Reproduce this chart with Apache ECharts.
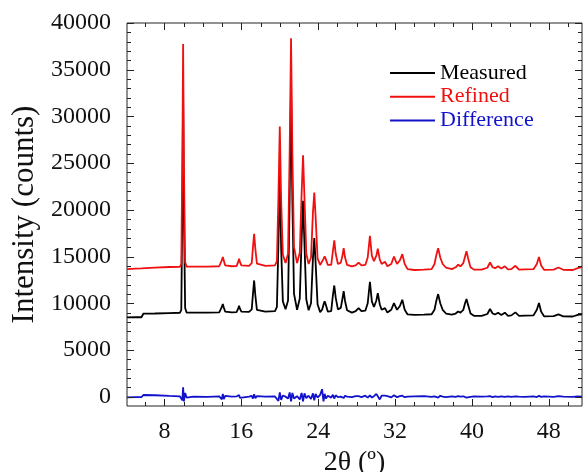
<!DOCTYPE html>
<html>
<head>
<meta charset="utf-8">
<script src="https://cdn.jsdelivr.net/npm/echarts@6/dist/echarts.min.js"></script>
<style>
  html, body { margin: 0; padding: 0; background: #fff; }
  #chart { width: 584px; height: 472px; }
</style>
</head>
<body>
<div id="chart"></div>
<script>
// Powder diffraction pattern: measured profile, refined fit and their difference.
const twoTheta = [
  4.1, 5.0, 5.6, 5.8, 7.0, 8.5, 9.6,
  9.75, 9.86, 9.94, 10.02, 10.15, 10.3,
  11.0, 12.5, 13.7,
  13.85, 13.97, 14.07, 14.17, 14.32,
  15.0, 15.5,
  15.6, 15.68, 15.76, 15.85, 16.0,
  16.8,
  17.08, 17.2, 17.33, 17.46, 17.62,
  18.5, 19.5,
  19.7, 19.86, 20.0, 20.14, 20.32, 20.6,
  20.86, 21.03, 21.17, 21.31, 21.48, 21.8,
  22.08, 22.27, 22.42, 22.57, 22.76, 23.0,
  23.25, 23.45, 23.59, 23.73, 23.93, 24.2,
  24.4, 24.55, 24.67, 24.8, 25.0,
  25.35, 25.52, 25.67, 25.82, 26.05,
  26.35, 26.52, 26.65, 26.78, 27.0,
  27.5, 27.9, 28.2, 28.5,
  28.9, 29.15, 29.38, 29.58, 29.8,
  30.05, 30.2, 30.4, 30.6,
  30.8, 30.95, 31.2,
  31.6, 31.88, 32.2,
  32.5, 32.75, 33.0, 33.3,
  34.0, 35.0, 35.8,
  36.1, 36.3, 36.48, 36.7, 36.95, 37.3, 37.9,
  38.3, 38.56, 38.8, 39.1, 39.28, 39.43, 39.6, 39.85, 40.2, 41.0,
  41.6, 41.88, 42.15, 42.4, 42.72, 43.05, 43.42, 43.75, 44.1, 44.52, 44.9, 45.5, 46.4,
  46.75, 46.97, 47.2, 47.5, 48.5, 49.0, 49.5, 50.5, 51.0, 51.45
];

const measured = [
  8480, 8500, 8500, 8880, 8900, 8950, 8980,
  9300, 20500, 32500, 20000, 9500, 9000,
  8990, 9000, 9030,
  9150, 9600, 9910, 9550, 9100,
  9030, 9050,
  9150, 9450, 9730, 9420, 9100,
  9080,
  9350, 10900, 12440, 10800, 9300,
  9100, 9150,
  9600, 16500, 23900, 16000, 10200, 9350,
  10300, 21500, 33300, 21000, 11000, 9300,
  10500, 16800, 20960, 16300, 10400, 9250,
  10000, 14800, 16970, 14300, 9900, 9050,
  9300, 9850, 10200, 9800, 9100,
  9150, 10800, 11900, 10600, 9350,
  9500, 10500, 11300, 10300, 9250,
  9000, 9150, 9480, 9150,
  9200, 10000, 12300, 10200, 9600,
  10300, 11090, 9900, 9300,
  9200, 9480, 9000,
  9300, 10020, 9300,
  9700, 10370, 9300, 8800,
  8750, 8780, 8820,
  9300, 10300, 10980, 10000, 9300, 8900, 8780,
  8900, 9120, 9000, 9300, 10000, 10450, 9800, 8900, 8650, 8650,
  8850, 9380, 8900, 8800, 8980, 8750, 8990, 8650, 8700, 9020, 8650, 8680, 8700,
  9300, 10020, 9100, 8600, 8620, 8800, 8600, 8580, 8750, 8800
];

const refined = [
  13650, 13700, 13730, 13760, 13820, 13880, 13900,
  14200, 25500, 37750, 25000, 14400, 13920,
  13910, 13930, 13960,
  14080, 14620, 14940, 14580, 14050,
  13960, 13980,
  14100, 14450, 14760, 14420, 14050,
  14010,
  14300, 15900, 17430, 15800, 14250,
  14010, 14050,
  14500, 21500, 28910, 21000, 15200, 14300,
  15300, 26500, 38360, 26000, 16000, 14300,
  15400, 21700, 25850, 21200, 15300, 14200,
  14900, 19700, 21850, 19200, 14800, 14100,
  14300, 14750, 15010, 14700, 14100,
  14100, 15500, 16720, 15300, 14200,
  14350, 15100, 15900, 14950, 14100,
  13950, 14050, 14360, 14050,
  14100, 14900, 17220, 15100, 14500,
  15100, 15830, 14700, 14200,
  14100, 14440, 13950,
  14200, 15000, 14200,
  14600, 15260, 14200, 13650,
  13560, 13600, 13650,
  14200, 15200, 15900, 14900, 14200, 13800, 13650,
  13850, 14120, 13950, 14300, 15000, 15580, 14800, 13850, 13600, 13600,
  13800, 14360, 13850, 13750, 13950, 13720, 13950, 13620, 13650, 14010, 13600, 13620, 13650,
  14200, 14940, 14050, 13580, 13600, 13830, 13580, 13560, 13750, 13870
];

const difference = [
  -80, -60, -60, 180, 150, 80, 40,
  200, -400, 1000, -500, 400, -100,
  0, -20, 20,
  100, -280, 300, -250, 80,
  0, 20,
  -60, -150, 180, -120, 40,
  0,
  80, -200, 250, -180, 60,
  0, 20,
  60, -450, 450, -350, 120, 0,
  -200, 450, -500, 400, -200, 50,
  -300, 400, -500, 350, -150, 100,
  -250, 350, -400, 300, -100, 200,
  800, -500, 300, -200, 100,
  -100, 200, -200, 150, -50,
  0, 150, -150, 100, 0,
  -60, 60, 50, -40,
  100, -100, 150, -100, 50,
  300, 400, -300, 100,
  -50, 100, 50,
  -80, 150, -50,
  60, 100, -60, 0,
  30, 50, -30,
  40, 100, -100, 100, 0, -40, 20,
  -30, 50, 0, 40, 100, -100, 50, -30, 20, 0,
  30, 50, -40, 20, -30, 40, -20, 30, -30, 40, 0, -30, 20,
  -40, 80, -30, 20, -20, 50, 0, -30, 20, 0
];

const xMajorTicks = [8, 16, 24, 32, 40, 48];
const xMinorTicks = [6, 10, 12, 14, 18, 20, 22, 26, 28, 30, 34, 36, 38, 42, 44, 46, 50];
const yMajorTicks = [0, 5000, 10000, 15000, 20000, 25000, 30000, 35000, 40000];
const yMinorTicks = [];
for (let v = 1000; v < 40000; v += 1000) {
  if (v % 5000 !== 0) yMinorTicks.push(v);
}

const seriesNames = ['Measured', 'Refined', 'Difference'];
const seriesColors = ['#000000', '#f01010', '#1212cc'];

const FONT = "'Liberation Serif', 'Times New Roman', serif";
const INK = '#111';
const FRAME = '#222';
const X_MIN = 4.1, X_MAX = 51.45, Y_MIN = -1000, Y_MAX = 40000;
const MAJOR_LEN = 7, MINOR_LEN = 4;

function pairs(values) {
  return twoTheta.map((t, i) => [t, values[i]]);
}

// Inward tick marks on all four sides of the frame, placed through the axis scales.
const xTickData = xMajorTicks.map(v => [v, MAJOR_LEN]).concat(xMinorTicks.map(v => [v, MINOR_LEN]));
const yTickData = yMajorTicks.map(v => [v, MAJOR_LEN]).concat(yMinorTicks.map(v => [v, MINOR_LEN]));

function tickLine(x1, y1, x2, y2) {
  return { type: 'line', shape: { x1: x1, y1: y1, x2: x2, y2: y2 },
           style: { stroke: FRAME, lineWidth: 1 } };
}

function renderXTick(params, api) {
  const v = api.value(0), len = api.value(1);
  const lo = api.coord([v, Y_MIN]), hi = api.coord([v, Y_MAX]);
  const x = Math.round(lo[0]) + 0.5;
  return { type: 'group', children: [
    tickLine(x, lo[1], x, lo[1] - len),
    tickLine(x, hi[1], x, hi[1] + len)
  ] };
}

function renderYTick(params, api) {
  const v = api.value(0), len = api.value(1);
  const l = api.coord([X_MIN, v]), r = api.coord([X_MAX, v]);
  const y = Math.round(l[1]) + 0.5;
  return { type: 'group', children: [
    tickLine(l[0], y, l[0] + len, y),
    tickLine(r[0], y, r[0] - len, y)
  ] };
}

const chart = echarts.init(document.getElementById('chart'), null, { renderer: 'canvas' });

chart.setOption({
  animation: false,
  backgroundColor: '#ffffff',
  grid: { left: 127, right: 2, top: 23, bottom: 66, outerBoundsMode: 'none',
          show: true, borderColor: FRAME, borderWidth: 1, backgroundColor: 'transparent' },
  legend: {
    orient: 'vertical',
    left: 385,
    top: 57,
    icon: 'rect',
    itemWidth: 45,
    itemHeight: 2,
    itemGap: 1.7,
    textStyle: { fontFamily: FONT, fontSize: 22, lineHeight: 22 },
    data: seriesNames.map((n, i) => ({ name: n, textStyle: { color: seriesColors[i] } }))
  },
  xAxis: {
    type: 'value', min: X_MIN, max: X_MAX,
    axisLine: { show: false, onZero: false },
    axisTick: { show: false },
    axisLabel: { show: true, customValues: xMajorTicks, margin: 14,
                 fontFamily: FONT, fontSize: 24, color: INK },
    splitLine: { show: false },
    name: '2θ (º)', nameLocation: 'middle', nameGap: 31,
    nameTextStyle: { fontFamily: FONT, fontSize: 28, color: INK }
  },
  yAxis: {
    type: 'value', min: Y_MIN, max: Y_MAX,
    axisLine: { show: false, onZero: false },
    axisTick: { show: false },
    axisLabel: { show: true, customValues: yMajorTicks, margin: 16,
                 fontFamily: FONT, fontSize: 24, color: INK,
                 formatter: v => String(v) },
    splitLine: { show: false },
    name: 'Intensity (counts)', nameLocation: 'middle', nameGap: 77,
    nameTextStyle: { fontFamily: FONT, fontSize: 31, color: INK }
  },
  series: [
    { name: seriesNames[0], data: pairs(measured) },
    { name: seriesNames[1], data: pairs(refined) },
    { name: seriesNames[2], data: pairs(difference) }
  ].map((s, i) => ({
    type: 'line',
    name: s.name,
    data: s.data,
    showSymbol: false,
    symbol: 'none',
    color: seriesColors[i],
    lineStyle: { color: seriesColors[i], width: 1.8 },
    emphasis: { disabled: true },
    z: 2 + i
  })).concat([
    { type: 'custom', name: 'xTicks', data: xTickData, renderItem: renderXTick,
      clip: false, silent: true, z: 10 },
    { type: 'custom', name: 'yTicks', data: yTickData, renderItem: renderYTick,
      clip: false, silent: true, z: 10, encode: { x: -1, y: 0 } }
  ])
});
</script>
</body>
</html>
